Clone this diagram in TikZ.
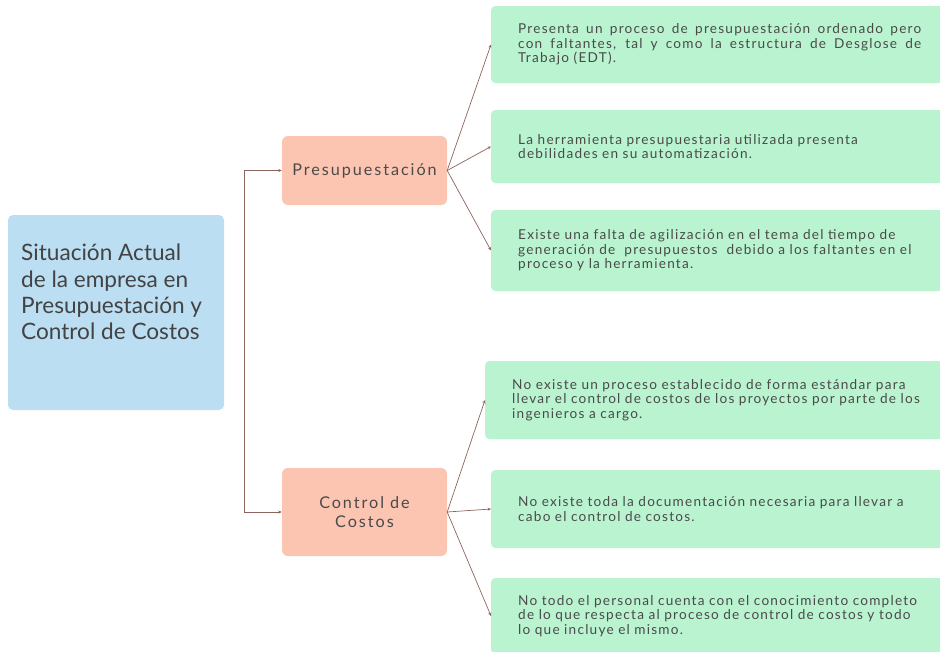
\documentclass[tikz,border=0pt]{standalone}
\usepackage{fontspec}
\setmainfont{Lato}
\newfontfamily\boxfont[LetterSpace=9]{Lato}
\newfontfamily\midfont[LetterSpace=12]{Lato}
\usepackage{xcolor}
\usetikzlibrary{arrows.meta}

\definecolor{rootblue}{HTML}{BBDEF3}
\definecolor{midsalmon}{HTML}{FCC5B1}
\definecolor{leafgreen}{HTML}{B9F3D0}
\definecolor{linkbrown}{HTML}{8C645C}
\definecolor{txtgray}{HTML}{4A4A4A}

\tikzset{
  rootbox/.style={fill=rootblue, rounded corners=5pt, minimum width=216pt, minimum height=195pt},
  roottext/.style={text=txtgray!90!black, align=left, inner sep=0pt, font=\fontsize{22.6}{26.2}\selectfont},
  midbox/.style={fill=midsalmon, rounded corners=6pt, minimum width=165pt, text=txtgray, align=center,
    font=\midfont\fontsize{16.2}{19}\selectfont},
  leafbox/.style={fill=leafgreen, rounded corners=4pt, anchor=west, inner xsep=27pt, inner ysep=0pt,
    text width=430pt, align=left, text=txtgray, font=\boxfont\fontsize{13.6}{14.4}\selectfont},
  link/.style={draw=linkbrown, line width=0.7pt, -{Stealth[length=3.5pt,width=3pt]}}
}

\begin{document}
\begin{tikzpicture}[x=1pt,y=-1pt]
  \useasboundingbox (0,0) rectangle (940,651);
  \clip (0,0) rectangle (940,651);

  % main box
  \node[rootbox] (root) at (116,312.5) {};
  \node[roottext, anchor=north west] (roottxt) at (21,244)
    {Situación Actual\\de la empresa en\\Presupuestación y\\Control de Costos};

  % second level
  \node[midbox, minimum height=69pt] (pres) at (364.5,170.5) {Presupuestación};
  \node[midbox, minimum height=88pt] (ctrl) at (364.5,512) {Control de\\Costos};

  % leaves of Presupuestacion
  \node[leafbox, minimum height=77pt, text width=403pt, align=justify] (p1) at (491,44.5)
    {Presenta un proceso de presupuestación ordenado pero\linebreak
     con faltantes, tal y como la estructura de Desglose de\linebreak
     Trabajo (EDT).};
  \node[leafbox, minimum height=73pt] (p2) at (491,146.5)
    {La herramienta presupuestaria utilizada presenta\\
     debilidades en su automatización.};
  \node[leafbox, minimum height=81pt] (p3) at (491,250.5)
    {Existe una falta de agilización en el tema del tiempo de\\
     generación de \ presupuestos \ debido a los faltantes en el\\
     proceso y la herramienta.};

  % leaves of Control de Costos
  \node[leafbox, minimum height=78pt] (c1) at (485,400)
    {No existe un proceso establecido de forma estándar para\\
     llevar el control de costos de los proyectos por parte de los\\
     ingenieros a cargo.};
  \node[leafbox, minimum height=78pt] (c2) at (491,509)
    {No existe toda la documentación necesaria para llevar a\\
     cabo el control de costos.};
  \node[leafbox, minimum height=76pt] (c3) at (491,616)
    {No todo el personal cuenta con el conocimiento completo\\
     de lo que respecta al proceso de control de costos y todo\\
     lo que incluye el mismo.};

  % connectors
  \coordinate (split) at (244,342);
  \draw[link] (split) |- (pres.west);
  \draw[link] (split) |- (ctrl.west);
  \foreach \n in {p1,p2,p3}
    \draw[link] (pres.east) -- (\n.west);
  \foreach \n in {c1,c2,c3}
    \draw[link] (ctrl.east) -- (\n.west);
\end{tikzpicture}
\end{document}
